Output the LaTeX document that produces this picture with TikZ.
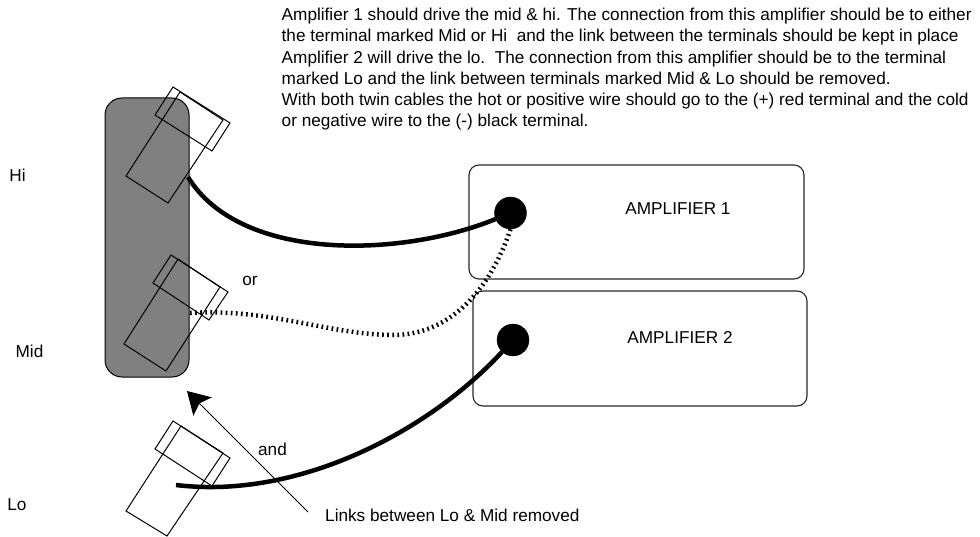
\documentclass[tikz,border=0pt]{standalone}
\usepackage{fontspec}
\setmainfont{Liberation Sans}
\usetikzlibrary{arrows.meta}
\tikzset{
  x=1pt,y=-1pt,
  lbl/.style={inner sep=0pt,font=\fontsize{17.2}{21.2}\selectfont},
  ampbox/.style={draw=black!85,line width=1.1pt,rounded corners=10pt,minimum width=335pt,minimum height=114pt,inner sep=0pt},
  term/.style={circle,fill=black,draw=black,minimum size=32pt,inner sep=0pt},
  wire/.style={line width=4.5pt,black},
  dotwire/.style={line width=4.5pt,black,dash pattern=on 1.7pt off 3.4pt},
  outline/.style={draw=black,line width=1pt,line join=miter},
  lead/.style={draw=black,line width=0.9pt,-{Stealth[length=22pt,width=26pt,inset=4.5pt]}}
}
\begin{document}
\begin{tikzpicture}
\useasboundingbox (0,0) rectangle (980,537);
% description
\node[lbl,anchor=north west,align=left] (note) at (281.5,8) {Amplifier 1 should drive the mid \& hi. The connection from this amplifier should be to either\\
the terminal marked Mid or Hi\ \ and the link between the terminals should be kept in place\\
Amplifier 2 will drive the lo.\ \ The connection from this amplifier should be to the terminal\\
marked Lo and the link between terminals marked Mid \& Lo should be removed.\\
With both twin cables the hot or positive wire should go to the (+) red terminal and the cold\\
or negative wire to the (-) black terminal.};
% speaker panel
\node[draw=black,line width=1pt,fill=black!50,rounded corners=17pt,minimum width=84pt,minimum height=279pt,inner sep=0pt] (panel) at (147,237.5) {};
% amplifiers
\node[ampbox] (amp1) at (636.5,222) {};
\node[ampbox,minimum width=334pt,minimum height=115pt] (amp2) at (640,348.5) {};
\node[lbl] (amp1t) at (678,208.5) {AMPLIFIER 1};
\node[lbl] (amp2t) at (680,337.5) {AMPLIFIER 2};
\node[term] (t1) at (510.5,213) {};
\node[term] (t2) at (513,340) {};
% free wire ends
\coordinate (hiEnd) at (188,177);
\coordinate (midEnd) at (190,313);
\coordinate (midBend) at (393,335);
\coordinate (loEnd) at (176,485);
\coordinate (leadStart) at (308,512);
\coordinate (leadTip) at (187,391);
% wires
\draw[wire] (hiEnd) .. controls (240,262) and (400,258) .. (t1);
\draw[dotwire] (midEnd) .. controls (270,308) and (330,335) .. (midBend) .. controls (450,335) and (490,290) .. (t1.south);
\draw[wire] (loEnd) .. controls (300,500) and (430,430) .. (t2);
% spade connectors
\foreach \a/\b/\c/\d/\e/\f/\g/\h/\i/\j/\k/\l/\m/\n/\o/\p in {
  126/176/168/203/223/120/180/92/173/87/230/123/212/151/155/115,
  124/344/166/371/220/287/178/259/171/255/228/292/209/320/153/283,
  126/511/167/536/223/453/181/426/173/421/230/458/212/486/155/449}{
  \draw[outline] (\a,\b) -- (\c,\d) -- (\e,\f) -- (\g,\h) -- cycle;
  \draw[outline] (\i,\j) -- (\k,\l) -- (\m,\n) -- (\o,\p) -- cycle;
}
% link removed arrow
\draw[lead] (leadStart) -- (leadTip);
% labels
\node[lbl] (hi) at (17.5,175) {Hi};
\node[lbl] (mid) at (29.5,351) {Mid};
\node[lbl] (lo) at (17,505) {Lo};
\node[lbl] (orl) at (250,281) {or};
\node[lbl] (andl) at (272.5,449) {and};
\node[lbl,anchor=west] (links) at (325,515) {Links between Lo \& Mid removed};
\end{tikzpicture}
\end{document}
